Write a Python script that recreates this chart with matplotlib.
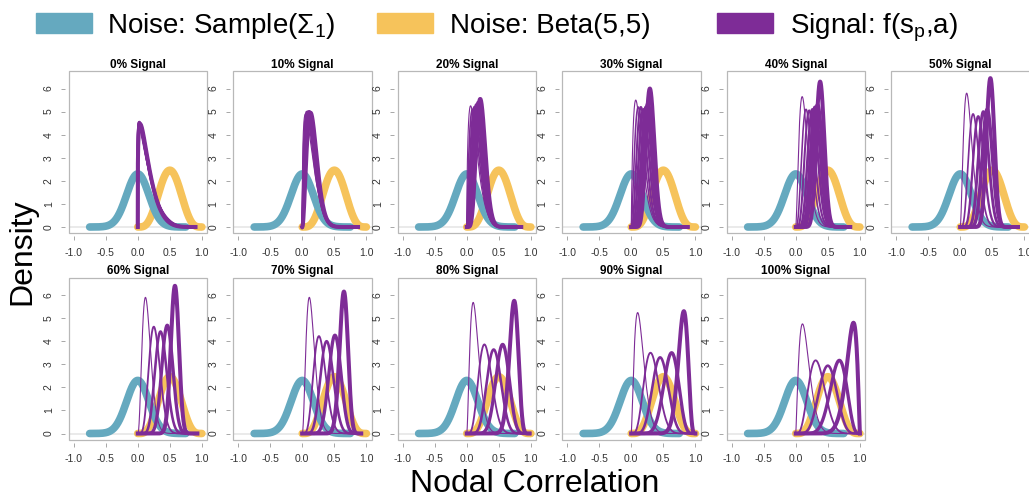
""" Noise vs signal densities of nodal correlation, one panel per signal level """
import math

import matplotlib
matplotlib.use("Agg")
import matplotlib.pyplot as plt
from matplotlib.patches import Rectangle
import numpy as np

plt.rcParams["font.family"] = ["Liberation Sans", "DejaVu Sans"]
plt.rcParams["mathtext.fontset"] = "custom"
plt.rcParams["mathtext.rm"] = "Liberation Sans"
plt.rcParams["axes.unicode_minus"] = False

BLUE = "#65a9bf"
YELLOW = "#f6c35b"
PURPLE = "#7e2c97"

panel_titles = ["0% Signal", "10% Signal", "20% Signal", "30% Signal",
                "40% Signal", "50% Signal", "60% Signal", "70% Signal",
                "80% Signal", "90% Signal", "100% Signal"]

# noise 1: sampled correlations, roughly normal around 0
noise_center = 0.0
noise_peak = 2.3
noise_range = (-0.75, 0.75)
# noise 2: Beta(5,5)
beta_a, beta_b = 5, 5

# signal curves: mode and peak height of each density
signal_modes = [
    [0.01, 0.018, 0.025, 0.032, 0.04],
    [0.05, 0.07, 0.09, 0.11, 0.13],
    [0.06, 0.09, 0.12, 0.15, 0.18, 0.21],
    [0.07, 0.11, 0.15, 0.19, 0.23, 0.26, 0.29],
    [0.10, 0.16, 0.21, 0.26, 0.30, 0.34, 0.38],
    [0.10, 0.20, 0.28, 0.36, 0.42, 0.47],
    [0.12, 0.25, 0.355, 0.46, 0.58],
    [0.11, 0.26, 0.38, 0.51, 0.65],
    [0.10, 0.275, 0.42, 0.56, 0.74],
    [0.10, 0.30, 0.45, 0.63, 0.82],
    [0.105, 0.31, 0.50, 0.68, 0.90],
]
signal_peaks = [
    [4.5, 4.55, 4.55, 4.5, 4.45],
    [4.9, 5.0, 5.0, 5.0, 4.95],
    [5.25, 5.1, 5.2, 5.3, 5.4, 5.55],
    [5.5, 5.2, 5.2, 5.1, 5.2, 5.35, 6.0],
    [5.65, 5.1, 5.05, 5.1, 5.2, 5.3, 6.3],
    [5.8, 4.9, 4.8, 5.0, 5.1, 6.45],
    [5.9, 4.63, 4.42, 4.69, 6.4],
    [5.9, 4.22, 4.0, 4.26, 6.15],
    [5.68, 3.86, 3.64, 3.86, 5.75],
    [5.24, 3.5, 3.3, 3.5, 5.3],
    [4.75, 3.17, 2.94, 3.17, 4.8],
]
signal_upper = [0.9, 0.87, 0.85, 0.88, 0.85, 0.9, 0.93, 0.92, 0.98, 1.0, 1.0]

x_ticks = [-1.0, -0.5, 0.0, 0.5, 1.0]
y_ticks = [0, 1, 2, 3, 4, 5, 6]


def beta_pdf(x, a, b):
    log_b = math.lgamma(a) + math.lgamma(b) - math.lgamma(a + b)
    with np.errstate(divide="ignore", invalid="ignore"):
        lp = (a - 1) * np.log(x) + (b - 1) * np.log1p(-x) - log_b
    return np.nan_to_num(np.exp(lp))


def beta_for(mode, height):
    # concentration so that the beta with this mode reaches this height
    lo, hi = 2.05, 5000.0
    for _ in range(80):
        n = math.sqrt(lo * hi)
        a = 1 + mode * (n - 2)
        b = 1 + (1 - mode) * (n - 2)
        if beta_pdf(np.array([mode]), a, b)[0] < height:
            lo = n
        else:
            hi = n
    return a, b


W, H = 1029, 500
fig = plt.figure(figsize=(W / 100, H / 100), dpi=100)

box_w, box_h = 138.5, 162
lefts = [68.5 + 164.5 * i for i in range(6)]
tops = [71, 277.5]

sd = 1 / (noise_peak * math.sqrt(2 * math.pi))
xn = np.linspace(noise_range[0], noise_range[1], 300)
yn = np.exp(-0.5 * ((xn - noise_center) / sd) ** 2) / (sd * math.sqrt(2 * math.pi))
xb = np.linspace(0, 1, 300)
yb = beta_pdf(xb, beta_a, beta_b)

for k, title in enumerate(panel_titles):
    row, col = divmod(k, 6)
    ax = fig.add_axes([lefts[col] / W, 1 - (tops[row] + box_h) / H, box_w / W, box_h / H])
    ax.set_xlim(-1.08, 1.08)
    ax.set_ylim(-0.26, 6.76)

    ax.axhline(0, color="#e6e6e6", lw=1.2, zorder=1)
    ax.plot(xb, yb, color=YELLOW, lw=5.5, solid_capstyle="round", zorder=2)
    ax.plot(xn, yn, color=BLUE, lw=5.5, solid_capstyle="round", zorder=3)

    modes = signal_modes[k]
    widths = np.linspace(0.8, 2.9, len(modes))
    xs = np.linspace(0, signal_upper[k], 400)
    for m, h, lw in zip(modes, signal_peaks[k], widths):
        a, b = beta_for(m, h)
        ax.plot(xs, beta_pdf(xs, a, b), color=PURPLE, lw=lw, zorder=4)

    for s in ax.spines.values():
        s.set_visible(False)
    ax.spines["left"].set_position(("outward", 2.5))
    ax.spines["bottom"].set_position(("outward", 2.5))
    ax.add_patch(Rectangle((0, 0), 1, 1, transform=ax.transAxes, fill=False,
                           ec="#b8b8b8", lw=0.9, clip_on=False, zorder=5))
    ax.set_xticks(x_ticks)
    ax.set_xticklabels(["%.1f" % v for v in x_ticks])
    ax.set_yticks(y_ticks)
    ax.tick_params(direction="out", length=3, width=0.6, color="#999999",
                   labelsize=7.5, labelcolor="#333333", pad=5)
    ax.tick_params(axis="y", labelrotation=90)
    for lab in ax.get_yticklabels():
        lab.set_va("center")
    ax.set_title(title, fontsize=8.5, fontweight="bold", pad=1.5)

# legend
legend_items = [
    (36, BLUE, r"Noise: Sample($\mathregular{\Sigma_1}$)", 107),
    (377, YELLOW, "Noise: Beta(5,5)", 450),
    (717, PURPLE, r"Signal: f($\mathregular{s_p}$,a)", 790),
]
for x0, color, label, tx in legend_items:
    fig.patches.append(Rectangle((x0 / W, 1 - 33 / H), 56 / W, 20 / H,
                                 transform=fig.transFigure, color=color))
    fig.text(tx / W, 1 - 33 / H, label, fontsize=20, va="baseline", ha="left")

fig.text(22 / W, 1 - 252 / H, "Density", rotation=90, fontsize=23,
         ha="center", va="center")
fig.text(535 / W, 1 - 484 / H, "Nodal Correlation", fontsize=23,
         ha="center", va="center")

fig.savefig("out.png", dpi=100)
